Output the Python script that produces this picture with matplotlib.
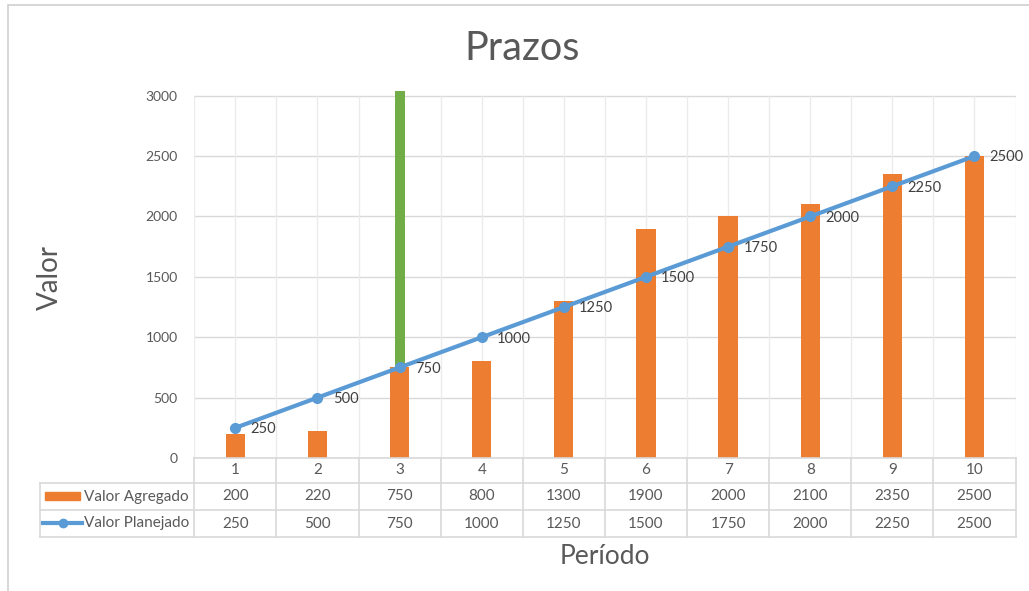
import numpy as np
import matplotlib.pyplot as plt
import matplotlib.transforms as mtransforms
from matplotlib.patches import Rectangle
from matplotlib.lines import Line2D

plt.rcParams['font.family'] = ['Lato', 'DejaVu Sans']

periodos = [1, 2, 3, 4, 5, 6, 7, 8, 9, 10]
valor_agregado = [200, 220, 750, 800, 1300, 1900, 2000, 2100, 2350, 2500]
valor_planejado = [250, 500, 750, 1000, 1250, 1500, 1750, 2000, 2250, 2500]
# barra verde no periodo 3
marco_periodo = 3
marco_base = 750
marco_topo = 3040

W, H = 1029, 591
fig = plt.figure(figsize=(W / 100, H / 100), dpi=100)

def fx(px):
    return px / W

def fy(py):
    return 1 - py / H

txt = '#595959'
grid = '#D9D9D9'

# moldura do grafico
fig.patches.append(Rectangle((fx(8), fy(640)), fx(1100), fy(5) - fy(640),
                             transform=fig.transFigure, fill=False,
                             edgecolor='#D0D0D0', lw=1.2))

ax = fig.add_axes([fx(194.3), fy(458), fx(1015.5) - fx(194.3), fy(88) - fy(458)])
x = np.array(periodos)
ax.set_xlim(0.5, 10.5)
ax.set_ylim(0, 3064)

for v in range(0, 3001, 500):
    ax.plot([0.5, 10.5], [v, v], color=grid, lw=1, zorder=0)
ax.vlines(np.arange(0.5, 10.51, 0.5), 0, 3000, color='#EBEBEB', lw=1, zorder=0)

ax.bar(x, valor_agregado, width=0.235, color='#ED7D31', zorder=2)
ax.bar([marco_periodo], [marco_topo - marco_base], bottom=marco_base,
       width=0.122, color='#70AD47', zorder=2)
ax.plot(x, valor_planejado, color='#5B9BD5', lw=3, marker='o', ms=7,
        zorder=3, solid_capstyle='round')
for xi, v in zip(x, valor_planejado):
    ax.annotate(str(v), (xi, v), xytext=(11, -1), textcoords='offset points',
                ha='left', va='center', fontsize=10.5, color='#404040', zorder=4)

ax.set_yticks(range(0, 3001, 500))
ax.tick_params(axis='y', length=0, pad=12, labelsize=10, labelcolor=txt)
ax.set_xticks([])
for s in ax.spines.values():
    s.set_visible(False)

# tabela de dados
bt = mtransforms.blended_transform_factory(ax.transData, fig.transFigure)
rows_y = [458, 483, 510, 537]
for i, py in enumerate(rows_y):
    x0 = fx(40) if i > 0 else fx(194.3)
    fig.lines.append(Line2D([x0, fx(1015.5)], [fy(py), fy(py)],
                            transform=fig.transFigure, color=grid, lw=1.2))
for b in np.arange(0.5, 10.51, 1.0):
    fig.lines.append(Line2D([b, b], [fy(458), fy(537)], transform=bt,
                            color=grid, lw=1.2, clip_on=False))
fig.lines.append(Line2D([fx(40), fx(40)], [fy(483), fy(537)],
                        transform=fig.transFigure, color=grid, lw=1.2))

for xi, a, p in zip(x, valor_agregado, valor_planejado):
    fig.text(xi, fy(470.5), str(xi), transform=bt, ha='center', va='center',
             fontsize=11, color=txt)
    fig.text(xi, fy(496.5), str(a), transform=bt, ha='center', va='center',
             fontsize=11, color=txt)
    fig.text(xi, fy(523.5), str(p), transform=bt, ha='center', va='center',
             fontsize=11, color=txt)

# chaves da legenda
fig.patches.append(Rectangle((fx(45), fy(500)), fx(35), fy(492) - fy(500),
                             transform=fig.transFigure, color='#ED7D31'))
fig.lines.append(Line2D([fx(43), fx(82)], [fy(523), fy(523)],
                        transform=fig.transFigure, color='#5B9BD5', lw=3))
fig.lines.append(Line2D([fx(62.5)], [fy(523)], transform=fig.transFigure,
                        color='#5B9BD5', marker='o', ms=6))
fig.text(fx(84), fy(496.5), 'Valor Agregado', ha='left', va='center',
         fontsize=11, color=txt)
fig.text(fx(84), fy(523.5), 'Valor Planejado', ha='left', va='center',
         fontsize=11, color=txt)

fig.text(fx(522), fy(48), 'Prazos', ha='center', va='center', fontsize=28.5, color=txt)
fig.text(fx(605), fy(557), 'Período', ha='center', va='center', fontsize=19, color=txt)
fig.text(fx(50), fy(278), 'Valor', ha='center', va='center', fontsize=20,
         color=txt, rotation=90)

fig.savefig('out.png', dpi=100)
